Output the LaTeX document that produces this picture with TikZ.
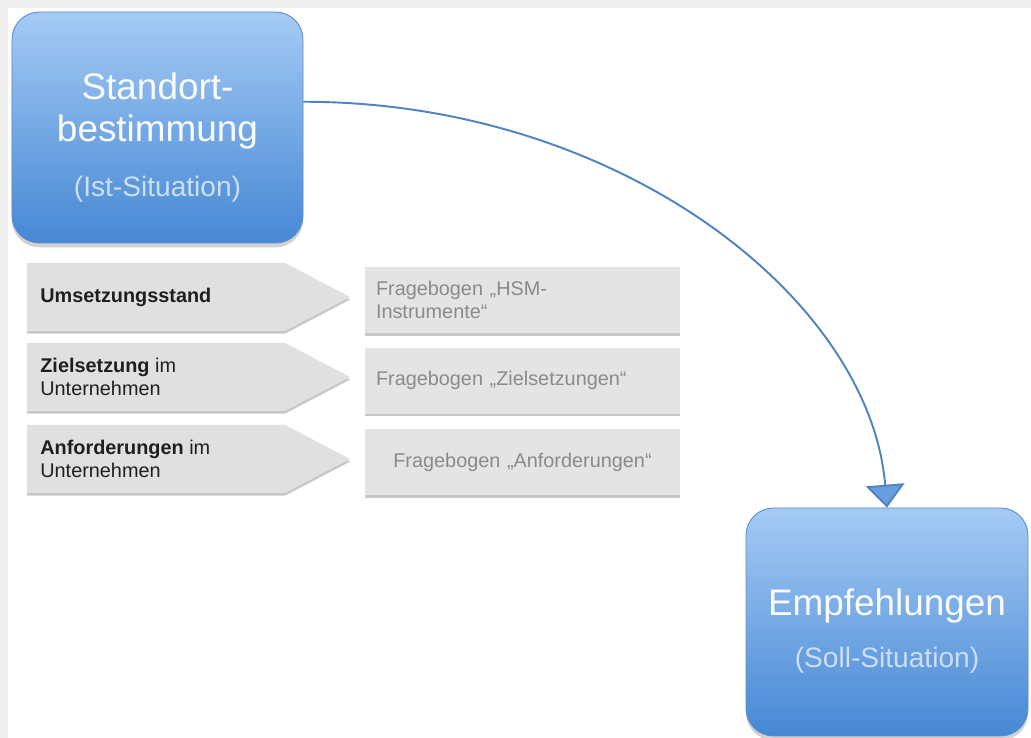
\documentclass[tikz,border=0pt]{standalone}
\usepackage{fontspec}
\setmainfont{Liberation Sans}
\definecolor{boxtop}{RGB}{165,202,245}
\definecolor{boxbottom}{RGB}{70,136,212}
\definecolor{boxedge}{RGB}{92,142,204}
\definecolor{flowblue}{RGB}{78,132,196}
\definecolor{flowfill}{RGB}{104,158,222}
\definecolor{paleblue}{RGB}{205,223,246}
\definecolor{panelgray}{RGB}{228,228,228}
\definecolor{chevgray}{RGB}{224,224,224}
\definecolor{qtext}{RGB}{138,138,138}
\definecolor{framegray}{RGB}{238,238,238}
\usetikzlibrary{arrows.meta,positioning,calc,shadows}

\tikzset{
  bluebox/.style={rectangle, rounded corners=0.55cm, draw=boxedge, line width=0.5pt,
    top color=boxtop, bottom color=boxbottom,
    drop shadow={shadow xshift=0pt, shadow yshift=-2.5pt, fill=black, opacity=0.18}},
  bigtext/.style={align=center, text=white!94!boxtop, font=\fontsize{21}{24}\selectfont},
  subtext/.style={text=paleblue, font=\fontsize{16}{19}\selectfont},
  qbox/.style={rectangle, fill=panelgray, minimum width=6.3cm, minimum height=1.32cm,
    inner xsep=0.22cm, text width=5.86cm, text=qtext, font=\fontsize{11.3}{13}\selectfont,
    drop shadow={shadow xshift=0pt, shadow yshift=-1.5pt, fill=black, opacity=0.22}},
  chevron/.style={fill=chevgray,
    drop shadow={shadow xshift=0pt, shadow yshift=-1.5pt, fill=black, opacity=0.22}},
  chevtext/.style={anchor=west, align=left, inner sep=0pt, text=black!88,
    font=\fontsize{11.3}{12.8}\selectfont},
  flowline/.style={draw=flowblue, line width=1.1pt,
    -{Triangle[width=22pt, length=13pt, fill=flowfill]}},
}

\begin{document}
\begin{tikzpicture}
  \useasboundingbox (0,0) rectangle (20.62,14.76);
  % page background
  \fill[framegray] (0,0) rectangle (20.62,14.76);
  \fill[white] (0.16,0) rectangle (20.62,14.60);

  % Ist- and Soll-Situation
  \node[bluebox, minimum width=5.82cm, minimum height=4.62cm] (ist) at (3.15,12.21) {};
  \node[bigtext] (isttext) at ([yshift=-0.2cm]ist.center)
    {Standort-\\bestimmung\\[7pt]{\fontsize{16}{19}\selectfont\color{paleblue}(Ist-Situation)}};

  \node[bluebox, minimum width=5.64cm, minimum height=4.56cm] (emp) at (17.74,2.32) {};
  \node[bigtext] (emptext) at ([yshift=-0.18cm]emp.center)
    {Empfehlungen\\[6pt]{\fontsize{16}{19}\selectfont\color{paleblue}(Soll-Situation)}};

  % Arrow from Ist to Soll
  \draw[flowline] (ist.10) .. controls +(6.34,0) and +(-0.34,4.16) .. (emp.north);

  % Chevrons
  \fill[chevron] (0.54,9.50) -- (5.70,9.50) -- (7.00,8.82) -- (5.70,8.14) -- (0.54,8.14) -- cycle;
  \fill[chevron] (0.54,7.90) -- (5.70,7.90) -- (7.00,7.22) -- (5.70,6.54) -- (0.54,6.54) -- cycle;
  \fill[chevron] (0.54,6.26) -- (5.70,6.26) -- (7.00,5.58) -- (5.70,4.90) -- (0.54,4.90) -- cycle;

  \node[chevtext] (ums) at (0.80,8.82) {\textbf{Umsetzungsstand}};
  \node[chevtext] (ziel) at (0.80,7.22) {\textbf{Zielsetzung} im\\Unternehmen};
  \node[chevtext] (anf) at (0.80,5.58) {\textbf{Anforderungen} im\\Unternehmen};

  % Fragebogen
  \node[qbox, align=left] (fb1) at (10.45,8.76) {Fragebogen „HSM-\\Instrumente“};
  \node[qbox, align=left, below=0.28cm of fb1] (fb2) {Fragebogen „Zielsetzungen“};
  \node[qbox, align=center, below=0.30cm of fb2] (fb3) {Fragebogen „Anforderungen“};
\end{tikzpicture}
\end{document}
